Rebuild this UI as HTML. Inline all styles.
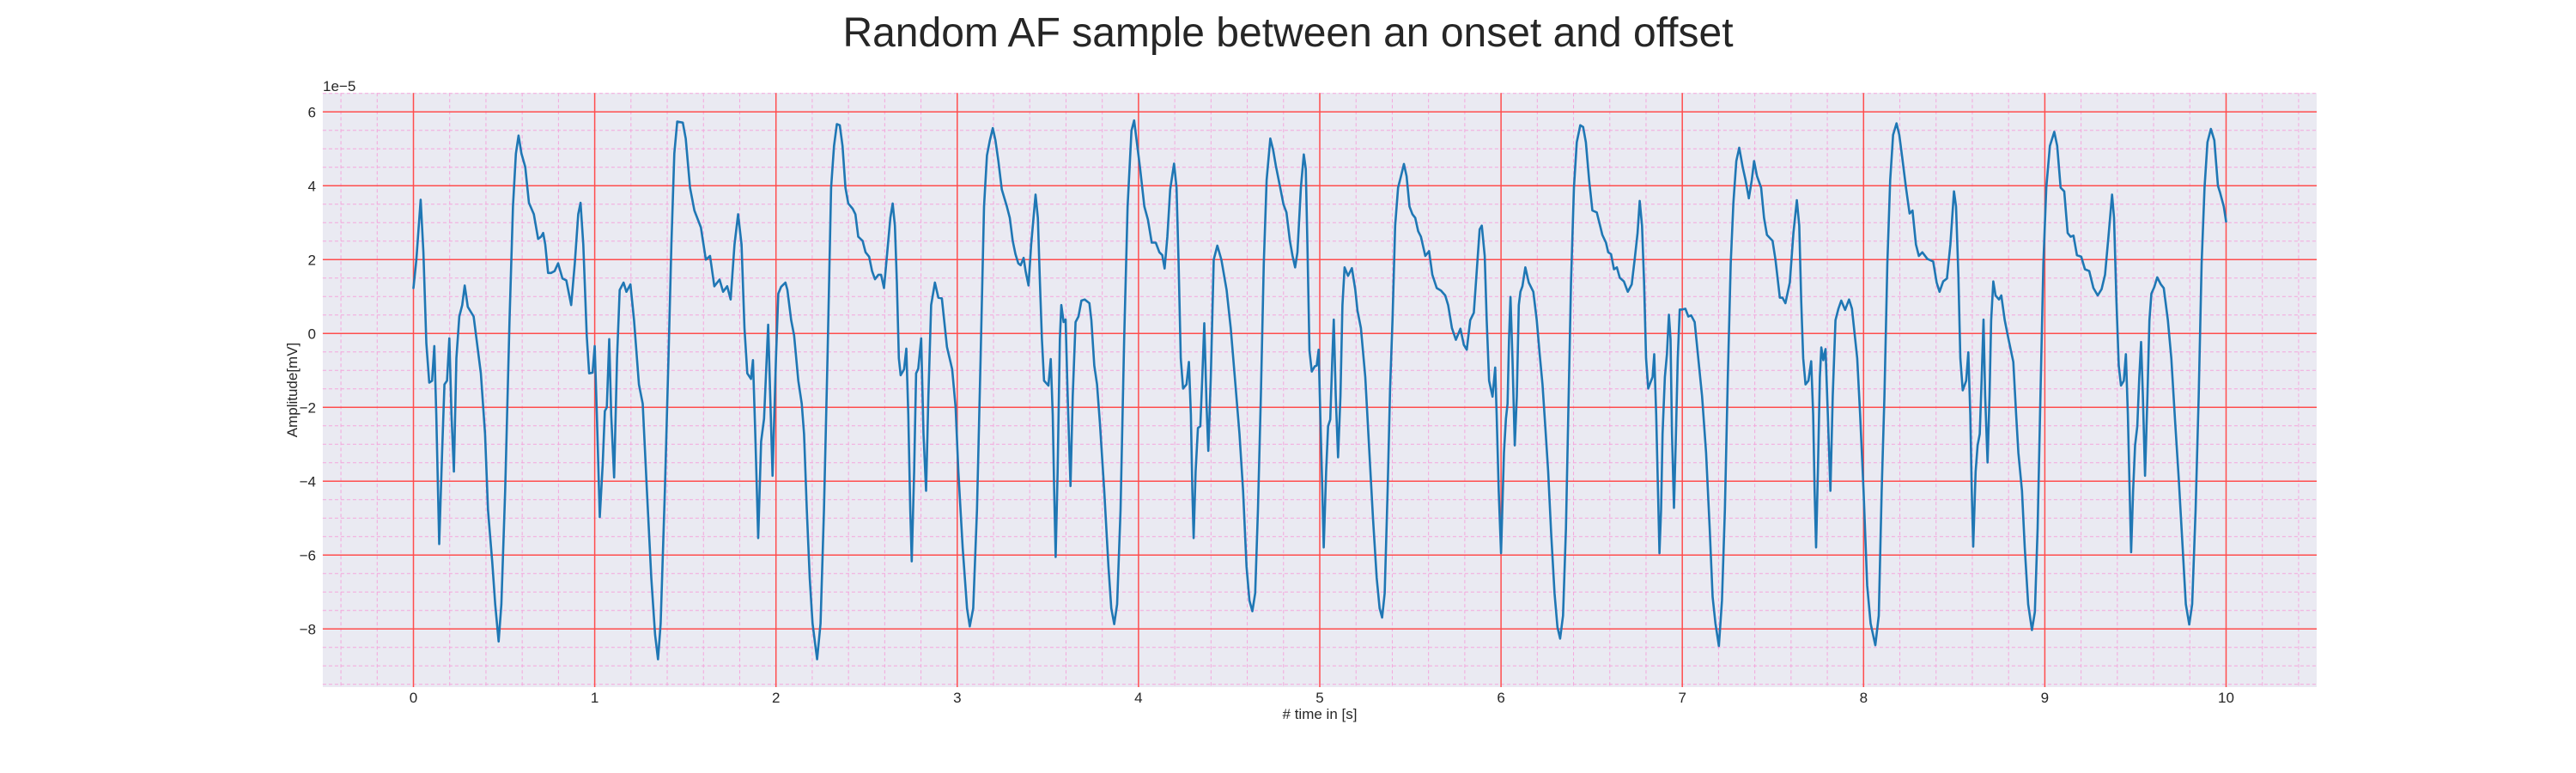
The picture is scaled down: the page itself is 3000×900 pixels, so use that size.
<!DOCTYPE html>
<html><head><meta charset="utf-8"><style>
html,body{margin:0;padding:0;background:#fff;width:3000px;height:900px;overflow:hidden}
svg{display:block}
text{font-family:"Liberation Sans",sans-serif;fill:#262626}
</style></head><body>
<svg id="chart" width="3000" height="900" viewBox="0 0 3000 900">
<rect x="0" y="0" width="3000" height="900" fill="#ffffff"/>
<text x="1500" y="54" font-size="48" text-anchor="middle">Random AF sample between an onset and offset</text>
<rect x="375.9" y="108.3" width="2322.1" height="691.7" fill="#eaeaf2"/>
<g id="grid"></g>
<g id="ticks"></g>
<text x="376" y="106" font-size="17">1e−5</text>
<text x="0" y="0" font-size="17" text-anchor="middle" transform="translate(346,454) rotate(-90)">Amplitude[mV]</text>
<text x="1537" y="837" font-size="17" text-anchor="middle"># time in [s]</text>
<g id="series"></g>
</svg>
<script>
const xTicks=[0,1,2,3,4,5,6,7,8,9,10];
const yTicks=[-8,-6,-4,-2,0,2,4,6];
const yTickLabels=["−8","−6","−4","−2","0","2","4","6"];
const times=[0,0.016,0.04,0.055,0.071,0.087,0.103,0.115,0.126,0.142,0.158,0.171,0.185,0.198,0.21,0.223,0.237,0.253,0.269,0.283,0.3,0.332,0.372,0.395,0.411,0.435,0.451,0.47,0.485,0.506,0.53,0.549,0.565,0.58,0.596,0.617,0.637,0.664,0.688,0.704,0.716,0.727,0.743,0.759,0.779,0.798,0.822,0.843,0.87,0.89,0.909,0.922,0.937,0.956,0.969,0.988,1.0,1.012,1.028,1.044,1.056,1.067,1.08,1.091,1.107,1.123,1.138,1.159,1.175,1.197,1.217,1.244,1.265,1.288,1.312,1.333,1.349,1.364,1.387,1.407,1.423,1.439,1.455,1.486,1.502,1.526,1.55,1.586,1.613,1.636,1.66,1.689,1.708,1.731,1.75,1.771,1.791,1.81,1.826,1.842,1.862,1.873,1.886,1.902,1.918,1.934,1.957,1.981,2.0,
2.013,2.028,2.052,2.063,2.084,2.1,2.123,2.142,2.155,2.17,2.186,2.202,2.227,2.246,2.265,2.284,2.304,2.32,2.336,2.352,2.367,2.383,2.399,2.423,2.438,2.454,2.478,2.494,2.514,2.53,2.546,2.565,2.58,2.596,2.612,2.631,2.644,2.656,2.667,2.678,2.688,2.707,2.719,2.73,2.741,2.749,2.762,2.773,2.785,2.801,2.814,2.828,2.841,2.856,2.877,2.896,2.915,2.943,2.972,2.991,3.006,3.03,3.054,3.069,3.088,3.109,3.129,3.148,3.164,3.18,3.196,3.211,3.227,3.246,3.274,3.29,3.306,3.321,3.337,3.35,3.366,3.377,3.393,3.408,3.432,3.445,3.456,3.467,3.479,3.503,3.516,3.527,3.535,3.543,3.554,3.566,3.574,3.587,3.598,3.609,3.625,3.637,3.653,3.669,3.685,3.703,3.729,3.74,3.756,3.771,3.787,3.811,3.834,3.85,3.866,3.882,3.901,3.921,3.94,3.961,3.976,
4.009,4.032,4.052,4.073,4.095,4.115,4.131,4.144,4.159,4.175,4.196,4.21,4.221,4.233,4.246,4.265,4.278,4.289,4.297,4.304,4.315,4.328,4.341,4.352,4.363,4.375,4.385,4.399,4.415,4.435,4.457,4.486,4.509,4.533,4.557,4.577,4.596,4.612,4.628,4.644,4.659,4.675,4.691,4.707,4.727,4.743,4.757,4.778,4.8,4.816,4.835,4.85,4.864,4.877,4.896,4.912,4.923,4.932,4.943,4.956,4.972,4.983,4.994,5.003,5.014,5.022,5.035,5.046,5.058,5.069,5.077,5.088,5.101,5.114,5.125,5.137,5.156,5.177,5.196,5.208,5.227,5.251,5.274,5.293,5.314,5.33,5.344,5.358,5.374,5.388,5.401,5.416,5.432,5.448,5.464,5.479,5.495,5.511,5.527,5.543,5.558,5.582,5.603,5.621,5.645,5.669,5.692,5.708,5.729,5.751,5.776,5.795,5.811,5.83,5.85,5.866,5.882,5.894,5.91,5.921,5.934,5.953,5.968,5.976,5.987,
6.0,6.016,6.027,6.036,6.044,6.052,6.063,6.076,6.087,6.098,6.107,6.118,6.134,6.153,6.178,6.197,6.213,6.229,6.244,6.26,6.276,6.295,6.311,6.326,6.342,6.358,6.371,6.386,6.402,6.418,6.437,6.453,6.468,6.486,6.504,6.528,6.544,6.559,6.579,6.591,6.607,6.623,6.639,6.655,6.678,6.699,6.721,6.737,6.753,6.765,6.778,6.789,6.8,6.812,6.828,6.836,6.845,6.856,6.866,6.874,6.883,6.891,6.904,6.915,6.926,6.935,6.943,6.954,6.965,6.975,6.986,6.998,7.017,7.033,7.049,7.068,7.084,7.109,7.131,7.151,7.167,7.183,7.202,7.219,7.235,7.251,7.267,7.282,7.298,7.314,7.333,7.349,7.367,7.383,7.396,7.412,7.435,7.451,7.467,7.498,7.514,7.538,7.553,7.569,7.593,7.613,7.632,7.645,7.656,7.667,7.68,7.696,7.711,7.722,7.73,7.738,7.748,7.759,7.767,7.778,7.79,7.803,7.817,7.83,7.845,7.861,7.877,7.898,7.92,7.936,
7.965,7.981,8.0,8.02,8.039,8.065,8.084,8.1,8.115,8.131,8.147,8.163,8.182,8.197,8.213,8.234,8.254,8.27,8.289,8.305,8.324,8.352,8.384,8.403,8.419,8.439,8.46,8.479,8.499,8.51,8.523,8.534,8.547,8.566,8.578,8.589,8.597,8.605,8.618,8.629,8.641,8.652,8.662,8.671,8.684,8.695,8.704,8.716,8.728,8.747,8.76,8.779,8.802,8.826,8.842,8.854,8.874,8.889,8.908,8.929,8.945,8.96,8.976,8.992,9.008,9.028,9.052,9.068,9.087,9.107,9.126,9.142,9.158,9.177,9.201,9.221,9.245,9.268,9.292,9.313,9.332,9.351,9.371,9.382,9.395,9.408,9.42,9.436,9.447,9.458,9.468,9.476,9.487,9.498,9.51,9.521,9.531,9.541,9.553,9.566,9.577,9.588,9.604,9.62,9.64,9.656,9.679,9.698,9.719,9.739,9.758,9.778,9.797,9.813,9.832,9.849,9.865,9.881,9.897,9.916,9.935,9.955,9.966,9.987,10.0];
const amplitudes=[1.23,2.0,3.62,2.2,-0.26,-1.33,-1.28,-0.34,-2.2,-5.7,-3.2,-1.38,-1.28,-0.13,-2.2,-3.74,-0.67,0.46,0.77,1.30,0.72,0.46,-1.08,-2.72,-4.77,-6.2,-7.33,-8.34,-7.33,-4.26,0.36,3.44,4.87,5.36,4.87,4.51,3.54,3.23,2.56,2.62,2.72,2.41,1.64,1.64,1.69,1.9,1.49,1.44,0.77,1.9,3.23,3.54,2.41,-0.05,-1.08,-1.06,-0.34,-2.2,-4.97,-3.54,-2.1,-2.0,-0.15,-2.2,-3.9,-0.67,1.18,1.38,1.13,1.33,0.36,-1.38,-1.9,-4.26,-6.62,-8.15,-8.82,-7.85,-4.26,-0.67,2.41,4.87,5.74,5.71,5.28,3.95,3.33,2.87,2.0,2.1,1.28,1.46,1.13,1.28,0.92,2.41,3.23,2.41,0.15,-1.08,-1.23,-0.72,-2.72,-5.54,-2.92,-2.31,0.24,-3.85,-0.67,
1.08,1.26,1.38,1.18,0.36,-0.05,-1.28,-1.9,-2.72,-4.77,-6.62,-7.85,-8.82,-7.85,-4.77,-0.67,3.95,5.08,5.67,5.64,5.08,3.95,3.52,3.38,3.23,2.62,2.51,2.2,2.08,1.69,1.47,1.59,1.59,1.23,2.1,3.13,3.52,2.92,1.38,-0.67,-1.13,-0.97,-0.41,-2.2,-4.77,-6.17,-3.74,-1.08,-0.95,-0.13,-2.72,-4.26,-1.69,0.77,1.38,0.97,0.95,-0.36,-0.97,-2.0,-3.74,-5.79,-7.44,-7.93,-7.44,-4.77,-0.67,3.44,4.82,5.23,5.56,5.23,4.67,3.9,3.44,3.13,2.51,2.15,1.9,1.85,2.05,1.69,1.3,2.41,3.76,3.13,1.38,-0.15,-1.28,-1.41,-0.69,-2.2,-4.26,-6.05,-3.74,-0.15,0.77,0.31,0.38,-1.69,-4.13,-1.69,0.31,0.46,0.89,0.92,0.82,0.36,-0.87,-1.38,-2.41,-4.26,-6.31,-7.44,-7.87,-7.33,-4.77,-0.15,3.44,5.49,5.77,
4.46,3.44,3.08,2.46,2.46,2.2,2.12,1.76,2.62,3.9,4.6,3.95,1.9,-0.67,-1.49,-1.38,-0.77,-2.2,-4.26,-5.54,-3.74,-2.56,-2.51,-1.18,0.28,-1.9,-3.18,-1.18,2.0,2.38,2.0,1.18,0.15,-1.28,-2.72,-4.26,-6.31,-7.23,-7.52,-7.03,-4.77,-1.69,1.9,4.15,5.28,4.97,4.56,4.05,3.49,3.28,2.51,2.1,1.79,2.2,3.95,4.85,4.46,2.41,-0.46,-1.03,-0.89,-0.87,-0.44,-2.2,-4.26,-5.79,-3.74,-2.51,-2.33,-0.67,0.38,-1.69,-3.35,-1.69,0.77,1.79,1.56,1.77,1.18,0.62,0.15,-1.18,-3.23,-4.97,-6.62,-7.44,-7.69,-7.03,-4.26,-1.49,0.36,2.92,3.95,4.26,4.59,4.26,3.44,3.23,3.13,2.77,2.62,2.1,2.23,1.59,1.23,1.16,1.03,0.77,0.15,-0.17,0.13,-0.31,-0.44,0.36,0.56,1.69,2.82,2.92,2.1,0.36,-1.28,-1.71,-0.92,-2.2,-4.26,
-5.95,-3.23,-2.31,-1.9,-0.15,0.99,-0.67,-3.03,-1.69,0.77,1.13,1.28,1.79,1.38,1.13,0.36,-0.56,-1.38,-2.51,-3.74,-5.38,-7.03,-7.95,-8.26,-7.64,-5.28,-2.2,1.38,3.95,5.18,5.64,5.59,5.18,4.15,3.33,3.28,2.97,2.67,2.46,2.2,2.15,1.74,1.79,1.51,1.41,1.13,1.33,2.0,2.72,3.59,2.92,1.38,-0.67,-1.49,-1.28,-1.18,-0.56,-2.2,-4.26,-5.95,-4.77,-2.72,-1.18,-0.56,0.51,-0.15,-2.72,-4.72,-2.72,-0.67,0.65,0.65,0.67,0.46,0.49,0.31,-0.46,-1.69,-3.23,-5.28,-7.13,-7.85,-8.46,-7.23,-4.77,-1.18,1.9,3.54,4.67,5.03,4.51,4.15,3.66,4.15,4.67,4.26,3.95,3.13,2.67,2.51,2.0,0.97,0.97,0.82,1.38,2.72,3.61,2.92,0.87,-0.67,-1.38,-1.28,-0.75,-2.2,-4.26,-5.79,-3.74,-1.18,-0.38,-0.72,-0.42,-2.2,-4.26,-1.69,0.36,0.67,0.89,0.64,0.92,0.67,
-0.67,-2.2,-4.26,-6.82,-7.85,-8.44,-7.64,-4.26,-1.69,1.9,4.15,5.38,5.69,5.38,4.77,3.95,3.25,3.33,2.41,2.1,2.2,2.02,1.95,1.38,1.13,1.41,1.49,2.41,3.85,3.44,1.59,-0.67,-1.54,-1.28,-0.51,-2.2,-4.26,-5.77,-3.74,-3.03,-2.72,-1.18,0.38,-1.69,-3.49,-1.69,0.36,1.41,1.03,0.92,1.03,0.36,-0.21,-0.77,-2.2,-3.23,-4.26,-5.79,-7.33,-8.03,-7.54,-5.28,-1.69,1.9,3.95,5.08,5.46,5.08,3.95,3.85,2.72,2.62,2.65,2.12,2.08,1.74,1.69,1.23,1.03,1.2,1.59,2.62,3.76,3.13,0.87,-0.87,-1.41,-1.28,-0.56,-2.2,-4.26,-5.92,-4.26,-3.03,-2.51,-1.18,-0.23,-1.69,-3.85,-1.69,0.36,1.08,1.26,1.52,1.33,1.23,0.36,-0.67,-2.41,-3.95,-5.59,-7.33,-7.88,-7.33,-4.77,-1.69,1.9,3.95,5.18,5.54,5.23,4.0,3.83,3.44,3.03];

const NS='http://www.w3.org/2000/svg';
const L=375.9,R=2698,T=108.3,B=800;
const X0=481.5,XS=211.1,Y0=388.3,YS=43;
function xs(t){return X0+XS*t;}
function ys(v){return Y0-YS*v;}
function mk(tag,attrs,parent){const e=document.createElementNS(NS,tag);for(const k in attrs)e.setAttribute(k,attrs[k]);parent.appendChild(e);return e;}
const grid=document.getElementById('grid');
// minor grid
for(let i=-2;i<=52;i++){const t=i*0.2;if(i%5===0)continue;const x=xs(t);if(x<L||x>R)continue;
 const ln=mk('line',{x1:x,x2:x,y1:T,y2:B,stroke:'#f4a6dc','stroke-width':1,'stroke-dasharray':'4,3'},grid);
 
 }
for(let i=-19;i<=13;i++){const v=i*0.5;if(i%4===0)continue;const y=ys(v);if(y<T||y>B)continue;
 const ln=mk('line',{x1:L,x2:R,y1:y,y2:y,stroke:'#f4a6dc','stroke-width':1,'stroke-dasharray':'4,3'},grid);
 
 }
const ticks=document.getElementById('ticks');
xTicks.forEach(t=>{const x=xs(t);
 const ln=mk('line',{x1:x,x2:x,y1:T,y2:B,stroke:'#ff4d4d','stroke-width':1.5},grid);
 
 
 const tx=mk('text',{x:x,y:818,'font-size':17,'text-anchor':'middle'},ticks);tx.textContent=String(t);
 
 });
yTicks.forEach((v,i)=>{const y=ys(v);
 const ln=mk('line',{x1:L,x2:R,y1:y,y2:y,stroke:'#ff4d4d','stroke-width':1.5},grid);
 
 
 const tx=mk('text',{x:368,y:y+6,'font-size':17,'text-anchor':'end'},ticks);tx.textContent=yTickLabels[i];
 
 });
const series=document.getElementById('series');
let d='';
for(let i=0;i<times.length;i++){d+=(i?'L':'M')+xs(times[i]).toFixed(1)+','+ys(amplitudes[i]).toFixed(1);}
const path=mk('path',{d:d,fill:'none',stroke:'#1f77b4','stroke-width':2.6,'stroke-linejoin':'round','stroke-linecap':'round'},series);


</script>
</body></html>
